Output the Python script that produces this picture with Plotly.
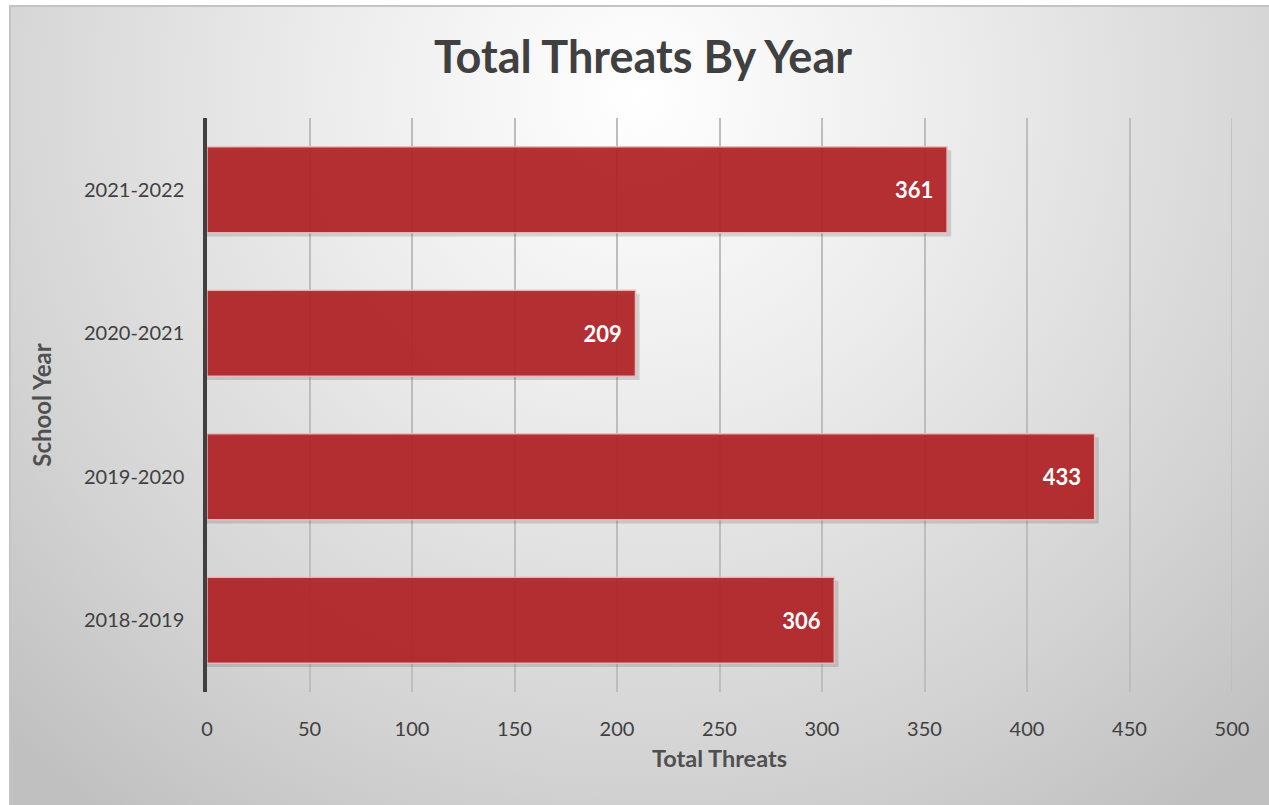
import base64
import plotly.graph_objects as go

school_years = ["2018-2019", "2019-2020", "2020-2021", "2021-2022"]
total_threats = [306, 433, 209, 361]
x_ticks = [0, 50, 100, 150, 200, 250, 300, 350, 400, 450, 500]

W, H = 1269, 805
ML, MR, MT, MB = 207, 37, 118, 113
PW, PH = W - ML - MR, H - MT - MB

# background radial gradient as svg (frame visible only top/left, like the reference crop)
svg = f'''<svg xmlns="http://www.w3.org/2000/svg" width="{W-9}" height="{H-5}" viewBox="0 0 {W-9} {H-5}">
<defs><radialGradient id="g" gradientUnits="userSpaceOnUse" cx="{(W-9)/2}" cy="90" r="900" fx="{(W-9)/2}" fy="90">
<stop offset="0" stop-color="#ffffff"/><stop offset="0.35" stop-color="#ececec"/>
<stop offset="0.75" stop-color="#d3d3d3"/><stop offset="1" stop-color="#c0c0c0"/></radialGradient></defs>
<rect width="100%" height="100%" fill="url(#g)"/>
<rect x="1" y="1" width="{W+20}" height="{H+20}" fill="none" stroke="#c4c4c4" stroke-width="2"/>
</svg>'''
src = "data:image/svg+xml;base64," + base64.b64encode(svg.encode()).decode()

def px_to_paper_x(px):
    return (px - ML) / PW

def px_to_paper_y(py):
    return (H - MB - py) / PH

fig = go.Figure()

# soft shadow
fig.add_trace(go.Bar(
    y=school_years, x=[v + 2 for v in total_threats], orientation="h",
    width=0.6, offset=-0.325, base=0,
    marker=dict(color="rgba(60,60,60,0.18)", line=dict(width=0)),
    hoverinfo="skip", showlegend=False,
))

fig.add_trace(go.Bar(
    y=school_years, x=total_threats, orientation="h",
    width=0.6,
    marker=dict(color="rgba(178,34,38,0.93)", line=dict(color="rgba(235,190,190,0.9)", width=1.5)),
    text=[f"{v}\u00a0\u00a0" for v in total_threats], textposition="inside", insidetextanchor="end",
    textfont=dict(color="white", size=22, family="Lato", weight="bold"),
    showlegend=False,
))

# gridline at the last tick (plotly skips the one on the range edge)
fig.add_shape(type="line", xref="x", yref="paper", x0=x_ticks[-1], x1=x_ticks[-1], y0=0, y1=1,
              line=dict(color="#bdbdbd", width=1.5), layer="below")

fig.update_layout(
    width=W, height=H,
    margin=dict(l=ML, r=MR, t=MT, b=MB),
    paper_bgcolor="white", plot_bgcolor="rgba(0,0,0,0)",
    barmode="overlay",
    title=dict(text="<b>Total Threats By Year</b>", x=px_to_paper_x(643), xref="paper", xanchor="center",
               y=1 - 57 / H, yanchor="middle",
               font=dict(family="Lato", size=45, color="#404040")),
    font=dict(family="Lato", color="#404040"),
    images=[dict(source=src, xref="paper", yref="paper",
                 x=px_to_paper_x(9), y=px_to_paper_y(5),
                 sizex=(W - 9) / PW, sizey=(H - 5) / PH,
                 sizing="stretch", xanchor="left", yanchor="top", layer="below")],
    xaxis=dict(range=[0, 500], tickvals=x_ticks, ticks="", ticklabelstandoff=23,
               showgrid=True, gridcolor="#bdbdbd", gridwidth=1.5, zeroline=False,
               tickfont=dict(size=20, color="#404040"),
               title=dict(text="<b>Total Threats</b>", standoff=11,
                          font=dict(size=23.5, color="#505050"))),
    yaxis=dict(showline=True, linecolor="#404040", linewidth=3.5, ticks="",
               ticklabelstandoff=15, showgrid=False,
               tickfont=dict(size=20, color="#404040"),
               title=dict(text="<b>School Year</b>", standoff=27,
                          font=dict(size=24, color="#505050"))),
)

fig.write_html("out.html", config={"displayModeBar": False},
               post_script="document.body.style.margin='0';document.body.style.overflow='hidden';")
